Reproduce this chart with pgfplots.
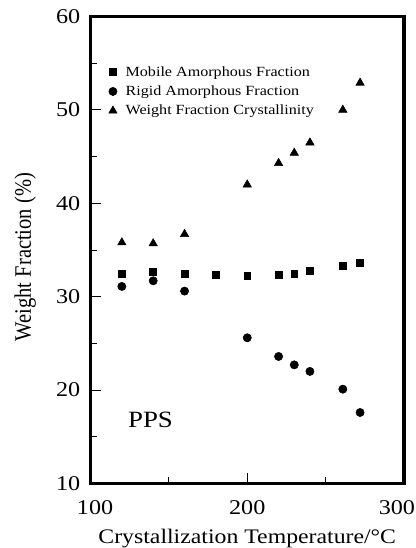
\documentclass[border=0pt]{standalone}
\usepackage{fontspec}
\setmainfont{Liberation Serif}[FakeStretch=1.15]
\newfontfamily\yfont{Liberation Serif}[FakeStretch=0.87]
\usepackage{pgfplots}
\pgfplotsset{compat=1.18}
\pgfplotsset{myleg/.style={legend image code/.code={\draw[##1] plot coordinates {(0cm,0cm)};}}}
\begin{document}
\begin{tikzpicture}
\begin{axis}[
  scale only axis, width=235.1pt, height=350.25pt,
  xmin=100, xmax=300, ymin=10, ymax=60,
  xtick={100,200,300}, ytick={10,20,...,60},
  xticklabels={\hspace*{6.8pt}100, 200, 300\hspace*{10.5pt}},
  minor x tick num=1, minor y tick num=1,
  tick pos=left, tick align=inside,
  major tick length=7.5pt, minor tick length=5pt,
  every tick/.style={black, line width=0.7pt},
  separate axis lines,
  every outer x axis line/.append style={line width=2.6pt, line cap=rect},
  every outer y axis line/.append style={line width=2.6pt, line cap=rect},
  axis line style={line width=2.6pt, line cap=rect},
  /pgf/number format/assume math mode=true,
  tick label style={font=\fontsize{15.75}{18}\selectfont},
  xticklabel style={anchor=center, yshift=-18pt},
  yticklabel style={anchor=east, inner sep=0pt, xshift=-7.5pt},
  xlabel={Crystallization Temperature/°C},
  ylabel={Weight Fraction (\%)},
  xlabel style={at={(axis description cs:0.5,-0.118)}, anchor=center, inner sep=0pt, font=\fontsize{15.5}{18}\selectfont},
  ylabel style={at={(axis description cs:-0.208,0.485)}, anchor=center, inner sep=0pt, font=\yfont\fontsize{17.7}{20}\selectfont},
  legend style={draw=none, fill=none, inner sep=0pt, row sep=5.7pt,
    nodes={inner sep=0pt}, font=\fontsize{10.5}{12}\selectfont,
    at={(axis description cs:0.0574,0.894)}, anchor=north west,
    /tikz/every odd column/.append style={column sep=6.4pt}},
  legend cell align=left,
]
\addplot[only marks, mark=square*, mark size=2.6pt, black, myleg] coordinates {
  (120,32.45) (140,32.7) (160,32.5) (180,32.3) (200,32.2) (220,32.3) (230,32.5) (240,32.8) (261,33.3) (272,33.6)};
\addlegendentry{Mobile Amorphous Fraction}
\addplot[only marks, mark=*, mark size=3.1pt, black, myleg] coordinates {
  (120,31.1) (140,31.7) (160,30.6) (200,25.6) (220,23.6) (230,22.7) (240,22.0) (261,20.1) (272,17.6)};
\addlegendentry{Rigid Amorphous Fraction}
\addplot[only marks, mark=triangle*, mark size=3.6pt, black, myleg] coordinates {
  (120,35.8) (140,35.7) (160,36.7) (200,42.0) (220,44.3) (230,45.4) (240,46.5) (261,50.0) (272,52.9)};
\addlegendentry{Weight Fraction Crystallinity}
\node[font=\fontsize{17.5}{20}\selectfont, inner sep=0pt] at (axis cs:138.3,16.8) {PPS};
\coordinate (bl) at (rel axis cs:0,0);
\coordinate (tr) at (rel axis cs:1,1);
\end{axis}
\pgfresetboundingbox
\path[use as bounding box] ([shift={(-67.9pt,-48.4pt)}]bl) rectangle ([shift={(9pt,12.4pt)}]tr);
\end{tikzpicture}
\end{document}
